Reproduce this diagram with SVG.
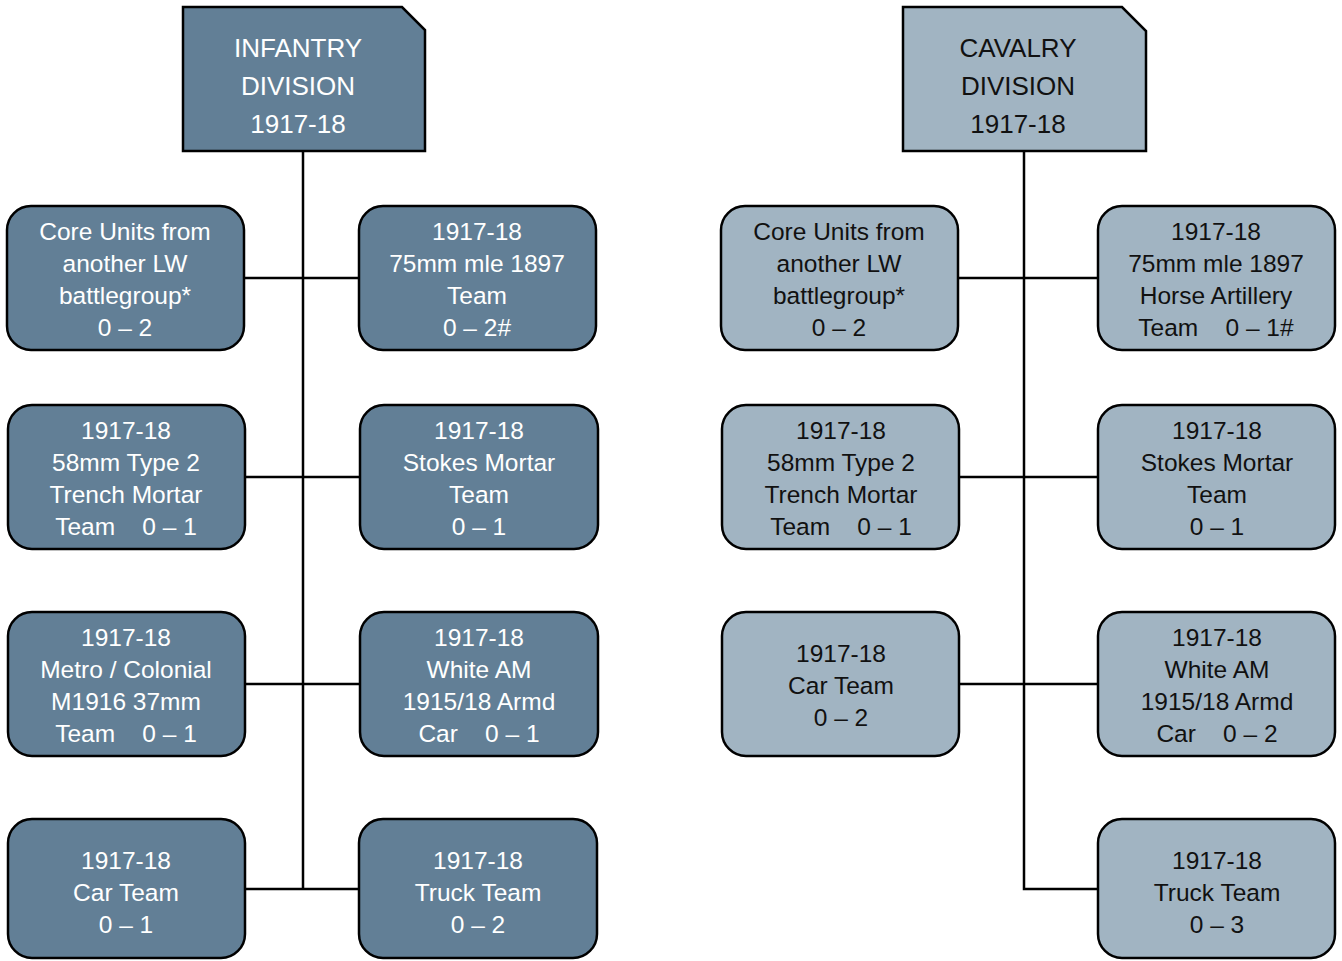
<svg xmlns="http://www.w3.org/2000/svg" width="1342" height="961" viewBox="0 0 1342 961">
  <style>
    .inf { fill: #627f96; stroke: #000; stroke-width: 2.5; }
    .cav { fill: #a1b4c2; stroke: #000; stroke-width: 2.5; }
    .wire { fill: none; stroke: #000; stroke-width: 2.5; }
    text { font-family: "Liberation Sans", Arial, sans-serif; text-anchor: middle; dominant-baseline: central; white-space: pre; }
    .ti { fill: #ffffff; font-size: 24.5px; }
    .tc { fill: #111111; font-size: 24.5px; }
    .hi { fill: #ffffff; font-size: 26px; }
    .hc { fill: #111111; font-size: 26px; }
  </style>
  <rect width="1342" height="961" fill="#ffffff"/>

  <!-- connectors -->
  <g id="connectors">
    <!-- infantry tree -->
    <path class="wire" d="M303,151 V889"/>
    <path class="wire" d="M244,278 H359 M245,477 H360 M245,684 H360 M245,889 H359"/>
    <!-- cavalry tree -->
    <path class="wire" d="M1024,151 V889 H1098"/>
    <path class="wire" d="M958,278 H1098 M959,477 H1098 M959,684 H1098"/>
  </g>

  <!-- infantry division -->
  <g id="inf-hq">
    <path class="inf" d="M183,7 H402 L425,30 V151 H183 Z"/>
    <text class="hi" x="298" y="48">INFANTRY</text>
    <text class="hi" x="298" y="86">DIVISION</text>
    <text class="hi" x="298" y="124">1917-18</text>
  </g>
  <g id="inf-core">
    <rect class="inf" x="7" y="206" width="237" height="144" rx="24"/>
    <text class="ti" x="125" y="231">Core Units from</text>
    <text class="ti" x="125" y="263">another LW</text>
    <text class="ti" x="125" y="295">battlegroup*</text>
    <text class="ti" x="125" y="327">0 – 2</text>
  </g>
  <g id="inf-75mm">
    <rect class="inf" x="359" y="206" width="237" height="144" rx="24"/>
    <text class="ti" x="477" y="231">1917-18</text>
    <text class="ti" x="477" y="263">75mm mle 1897</text>
    <text class="ti" x="477" y="295">Team</text>
    <text class="ti" x="477" y="327">0 – 2#</text>
  </g>
  <g id="inf-58mm">
    <rect class="inf" x="8" y="405" width="237" height="144" rx="24"/>
    <text class="ti" x="126" y="430">1917-18</text>
    <text class="ti" x="126" y="462">58mm Type 2</text>
    <text class="ti" x="126" y="494">Trench Mortar</text>
    <text class="ti" x="126" y="526">Team    0 – 1</text>
  </g>
  <g id="inf-stokes">
    <rect class="inf" x="360" y="405" width="238" height="144" rx="24"/>
    <text class="ti" x="479" y="430">1917-18</text>
    <text class="ti" x="479" y="462">Stokes Mortar</text>
    <text class="ti" x="479" y="494">Team</text>
    <text class="ti" x="479" y="526">0 – 1</text>
  </g>
  <g id="inf-37mm">
    <rect class="inf" x="8" y="612" width="237" height="144" rx="24"/>
    <text class="ti" x="126" y="637">1917-18</text>
    <text class="ti" x="126" y="669">Metro / Colonial</text>
    <text class="ti" x="126" y="701">M1916 37mm</text>
    <text class="ti" x="126" y="733">Team    0 – 1</text>
  </g>
  <g id="inf-armd-car">
    <rect class="inf" x="360" y="612" width="238" height="144" rx="24"/>
    <text class="ti" x="479" y="637">1917-18</text>
    <text class="ti" x="479" y="669">White AM</text>
    <text class="ti" x="479" y="701">1915/18 Armd</text>
    <text class="ti" x="479" y="733">Car    0 – 1</text>
  </g>
  <g id="inf-car">
    <rect class="inf" x="8" y="819" width="237" height="139" rx="24"/>
    <text class="ti" x="126" y="860">1917-18</text>
    <text class="ti" x="126" y="892">Car Team</text>
    <text class="ti" x="126" y="924">0 – 1</text>
  </g>
  <g id="inf-truck">
    <rect class="inf" x="359" y="819" width="238" height="139" rx="24"/>
    <text class="ti" x="478" y="860">1917-18</text>
    <text class="ti" x="478" y="892">Truck Team</text>
    <text class="ti" x="478" y="924">0 – 2</text>
  </g>

  <!-- cavalry division -->
  <g id="cav-hq">
    <path class="cav" d="M903,7 H1122 L1146,31 V151 H903 Z"/>
    <text class="hc" x="1018" y="48">CAVALRY</text>
    <text class="hc" x="1018" y="86">DIVISION</text>
    <text class="hc" x="1018" y="124">1917-18</text>
  </g>
  <g id="cav-core">
    <rect class="cav" x="721" y="206" width="237" height="144" rx="24"/>
    <text class="tc" x="839" y="231">Core Units from</text>
    <text class="tc" x="839" y="263">another LW</text>
    <text class="tc" x="839" y="295">battlegroup*</text>
    <text class="tc" x="839" y="327">0 – 2</text>
  </g>
  <g id="cav-75mm">
    <rect class="cav" x="1098" y="206" width="237" height="144" rx="24"/>
    <text class="tc" x="1216" y="231">1917-18</text>
    <text class="tc" x="1216" y="263">75mm mle 1897</text>
    <text class="tc" x="1216" y="295">Horse Artillery</text>
    <text class="tc" x="1216" y="327">Team    0 – 1#</text>
  </g>
  <g id="cav-58mm">
    <rect class="cav" x="722" y="405" width="237" height="144" rx="24"/>
    <text class="tc" x="841" y="430">1917-18</text>
    <text class="tc" x="841" y="462">58mm Type 2</text>
    <text class="tc" x="841" y="494">Trench Mortar</text>
    <text class="tc" x="841" y="526">Team    0 – 1</text>
  </g>
  <g id="cav-stokes">
    <rect class="cav" x="1098" y="405" width="237" height="144" rx="24"/>
    <text class="tc" x="1217" y="430">1917-18</text>
    <text class="tc" x="1217" y="462">Stokes Mortar</text>
    <text class="tc" x="1217" y="494">Team</text>
    <text class="tc" x="1217" y="526">0 – 1</text>
  </g>
  <g id="cav-car">
    <rect class="cav" x="722" y="612" width="237" height="144" rx="24"/>
    <text class="tc" x="841" y="653">1917-18</text>
    <text class="tc" x="841" y="685">Car Team</text>
    <text class="tc" x="841" y="717">0 – 2</text>
  </g>
  <g id="cav-armd-car">
    <rect class="cav" x="1098" y="612" width="237" height="144" rx="24"/>
    <text class="tc" x="1217" y="637">1917-18</text>
    <text class="tc" x="1217" y="669">White AM</text>
    <text class="tc" x="1217" y="701">1915/18 Armd</text>
    <text class="tc" x="1217" y="733">Car    0 – 2</text>
  </g>
  <g id="cav-truck">
    <rect class="cav" x="1098" y="819" width="237" height="139" rx="24"/>
    <text class="tc" x="1217" y="860">1917-18</text>
    <text class="tc" x="1217" y="892">Truck Team</text>
    <text class="tc" x="1217" y="924">0 – 3</text>
  </g>
</svg>
